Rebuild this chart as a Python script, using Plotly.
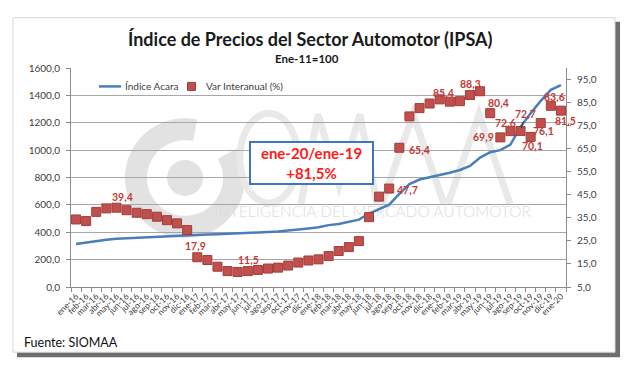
import math
import plotly.graph_objects as go

# ---------------- data ----------------
categories = ['ene-16', 'feb-16', 'mar-16', 'abr-16', 'may-16', 'jun-16', 'jul-16', 'ago-16',
              'sep-16', 'oct-16', 'nov-16', 'dic-16',
              'ene-17', 'feb-17', 'mar-17', 'abr-17', 'may-17', 'jun-17', 'jul-17', 'ago-17',
              'sep-17', 'oct-17', 'nov-17', 'dic-17',
              'ene-18', 'feb-18', 'mar-18', 'abr-18', 'may-18', 'jun-18', 'jul-18', 'ago-18',
              'sep-18', 'oct-18', 'nov-18', 'dic-18',
              'ene-19', 'feb-19', 'mar-19', 'abr-19', 'may-19', 'jun-19', 'jul-19', 'ago-19',
              'sep-19', 'oct-19', 'nov-19', 'dic-19',
              'ene-20']

indice_acara = [314, 325, 338, 346, 352, 356, 360, 364, 368, 372, 375, 378,
                381, 383, 386, 388, 391, 394, 397, 401, 405, 411, 420, 428,
                437, 452, 461, 474, 492, 537, 572, 602, 680, 752, 785, 800,
                817, 835, 855, 885, 945, 985, 1000, 1040, 1170, 1270, 1360, 1440,
                1475]

var_interanual = [34.3, 33.6, 37.6, 39.1, 39.4, 38.3, 37.2, 36.6, 35.5, 34.0, 32.6, 29.7,
                  17.9, 16.7, 13.8, 11.9, 11.5, 11.9, 12.4, 13.0, 13.4, 14.3, 15.6, 16.5,
                  17.0, 18.4, 20.6, 22.3, 24.9, 35.3, 44.2, 47.7, 65.4, 79.0, 82.6, 84.6,
                  86.4, 85.4, 85.6, 88.3, 89.9, 80.4, 69.9, 72.6, 72.7, 70.1, 76.1, 83.6,
                  81.5]

left_ticks = [0, 200, 400, 600, 800, 1000, 1200, 1400, 1600]
right_ticks = [5, 15, 25, 35, 45, 55, 65, 75, 85, 95]

# labelled points: (index, xshift px, yshift px)
labelled = [(4, 6, 11), (12, -2, 11), (16, 11, 12), (31, 18, -1), (32, 20, -2),
            (37, -6, 9), (39, 0, 11), (41, 8, 10), (42, -17, 0), (43, -5, 8),
            (45, 2, -9), (46, 3, -8), (47, 4, 9), (48, 5, -10)]
arrow_label = (44, 5, -17)

title_text = 'Índice de Precios del Sector Automotor (IPSA)'
subtitle_text = 'Ene-11=100'
box_text = 'ene-20/ene-19<br>+81,5%'
source_text = 'Fuente: SIOMAA'

# ---------------- layout geometry ----------------
W, H = 630, 370
PL, PR, PT, PB = 71, 566, 67.5, 287.5


def px(xp):
    return (xp - PL) / (PR - PL)


def py(yp):
    return (PB - yp) / (PB - PT)


FONT = 'Lato, "Open Sans", sans-serif'
RED_LBL = '#c43b36'
BLUE = '#4a7ebb'
SQ = '#c0504d'

fig = go.Figure()

fig.add_trace(go.Scatter(x=categories, y=indice_acara, mode='lines',
                         line=dict(color=BLUE, width=2.5), name='Índice Acara',
                         showlegend=False, hoverinfo='skip'))
fig.add_trace(go.Scatter(x=categories, y=var_interanual, mode='markers', yaxis='y2',
                         marker=dict(symbol='square', size=9, color=SQ,
                                     line=dict(color='#a33c39', width=1)),
                         name='Var Interanual (%)', showlegend=False, hoverinfo='skip'))

shapes = []
# card shadow + card
shapes.append(dict(type='rect', xref='paper', yref='paper', layer='below',
                   x0=px(17), x1=px(620), y0=py(358), y1=py(21),
                   fillcolor='#6e6e6e', line=dict(width=0)))
shapes.append(dict(type='rect', xref='paper', yref='paper', layer='below',
                   x0=px(13), x1=px(615), y0=py(353), y1=py(17),
                   fillcolor='white', line=dict(color='#d6d6d6', width=1)))

# watermark logo ring (gap at upper right)
WM = '#e2e2e2'
cx, cy, r = 185, 178, 49
pts = []
for k in range(0, 121):
    a = math.radians(78 + k * (360 - 48) / 120)
    pts.append((cx + r * math.cos(a), cy - r * math.sin(a)))
path = 'M ' + ' L '.join(f'{px(x):.5f},{py(y):.5f}' for x, y in pts)
shapes.append(dict(type='path', xref='paper', yref='paper', layer='below', path=path,
                   line=dict(color=WM, width=22)))
shapes.append(dict(type='circle', xref='paper', yref='paper', layer='below',
                   x0=px(cx - 18), x1=px(cx + 18), y0=py(cy + 18), y1=py(cy - 18),
                   fillcolor=WM, line=dict(width=0)))
# watermark letters (O M A A)
WL = '#e9e9e9'
opts = []
for k in range(0, 73):
    a = math.radians(k * 5)
    opts.append((269 + 29 * math.cos(a), 158 - 45 * math.sin(a)))
shapes.append(dict(type='path', xref='paper', yref='paper', layer='below',
                   path='M ' + ' L '.join(f'{px(x):.5f},{py(y):.5f}' for x, y in opts) + ' Z',
                   line=dict(color=WL, width=7)))
for poly in [[(301, 204), (318, 114), (339, 185), (360, 114), (377, 204)],
             [(382, 204), (413, 114), (444, 204)],
             [(448, 204), (479, 114), (510, 204)]]:
    shapes.append(dict(type='path', xref='paper', yref='paper', layer='below',
                       path='M ' + ' L '.join(f'{px(x):.5f},{py(y):.5f}' for x, y in poly),
                       line=dict(color=WL, width=7)))
shapes.append(dict(type='rect', xref='paper', yref='paper', layer='below',
                   x0=px(210), x1=px(535), y0=py(220), y1=py(202),
                   fillcolor='rgba(0,0,0,0)', line=dict(width=0),
                   label=dict(text='INTELIGENCIA DEL MERCADO AUTOMOTOR',
                              font=dict(family='"Lato Light", Lato, sans-serif', size=15.5,
                                        color='#dcdcdc'),
                              textposition='middle center')))

# manual legend symbols
shapes.append(dict(type='line', xref='paper', yref='paper', x0=px(99), x1=px(121),
                   y0=py(86), y1=py(86), line=dict(color=BLUE, width=2.5)))
shapes.append(dict(type='rect', xref='paper', yref='paper', x0=px(187.5), x1=px(195.5),
                   y0=py(90), y1=py(82), fillcolor=SQ, line=dict(color='#a33c39', width=1)))


def ann(text, x, y, size, color, xanchor='center', bold=False, **kw):
    d = dict(text=('<b>' + text + '</b>') if bold else text, xref='paper', yref='paper',
             x=px(x), y=py(y), xanchor=xanchor, yanchor='middle', showarrow=False,
             font=dict(family=FONT, size=size, color=color))
    d.update(kw)
    return d


annotations = [
    ann(title_text, 310, 38.5, 18, '#1a1a1a', bold=True),
    ann(subtitle_text, 307, 58, 11.5, '#1a1a1a', bold=True),
    ann('Índice Acara', 123, 86, 10, '#404040', xanchor='left'),
    ann('Var Interanual (%)', 204, 86, 10, '#404040', xanchor='left'),
    ann(source_text, 22, 343, 12.5, '#111111', xanchor='left'),
    ann(box_text, 311.5, 162.5, 15, '#ff1a1a', bold=True, align='center',
        width=119, height=38, borderpad=1, bordercolor='#3f74c0', borderwidth=2,
        bgcolor='white'),
]


def fmt(v):
    return f'{v:.1f}'.replace('.', ',')


for i, dx, dy in labelled:
    annotations.append(dict(text='<b>' + fmt(var_interanual[i]) + '</b>', xref='x', yref='y2',
                            x=categories[i], y=var_interanual[i], xshift=dx, yshift=dy,
                            xanchor='center', yanchor='middle', showarrow=False,
                            font=dict(family=FONT, size=10.5, color=RED_LBL)))
i, dx, dy = arrow_label
annotations.append(dict(text='<b>' + fmt(var_interanual[i]) + '</b>', xref='x', yref='y2',
                        x=categories[i], y=var_interanual[i], ax=dx, ay=dy,
                        showarrow=True, arrowhead=0, arrowwidth=0.8, arrowcolor='#222222',
                        standoff=3,
                        font=dict(family=FONT, size=10.5, color=RED_LBL)))

AX = '#8c8c8c'
fig.update_layout(
    width=W, height=H,
    margin=dict(l=PL, r=W - PR, t=PT, b=H - PB, pad=0),
    paper_bgcolor='white', plot_bgcolor='rgba(0,0,0,0)',
    separators=',.',
    showlegend=False,
    font=dict(family=FONT, color='#404040'),
    xaxis=dict(type='category', tickmode='array', tickvals=categories, ticktext=categories,
               tickangle=-45, tickfont=dict(size=8.5, color='#404040'),
               showgrid=False, showline=True, linecolor=AX, linewidth=1,
               ticks='outside', ticklen=4, tickcolor=AX, tickson='boundaries',
               automargin=False, range=[-0.5, len(categories) - 0.5]),
    yaxis=dict(range=[0, 1600], tickvals=left_ticks, tickformat='.1f',
               tickfont=dict(size=10, color='#404040'),
               showgrid=True, gridcolor='#a6a6a6', gridwidth=1,
               showline=True, linecolor=AX, ticks='outside', ticklen=4, tickcolor=AX,
               zeroline=False, automargin=False, ticklabelstandoff=4),
    yaxis2=dict(range=[5, 100], tickvals=right_ticks, tickformat='.1f', overlaying='y',
                side='right', tickfont=dict(size=10, color='#404040'),
                showgrid=False, showline=True, linecolor=AX, ticks='outside', ticklen=4,
                tickcolor=AX, zeroline=False, automargin=False, ticklabelstandoff=4),
    shapes=shapes,
    annotations=annotations,
)
fig.update_traces(cliponaxis=False)

fig.write_html('out.html', config={'displayModeBar': False},
               post_script="document.body.style.margin='0';")
